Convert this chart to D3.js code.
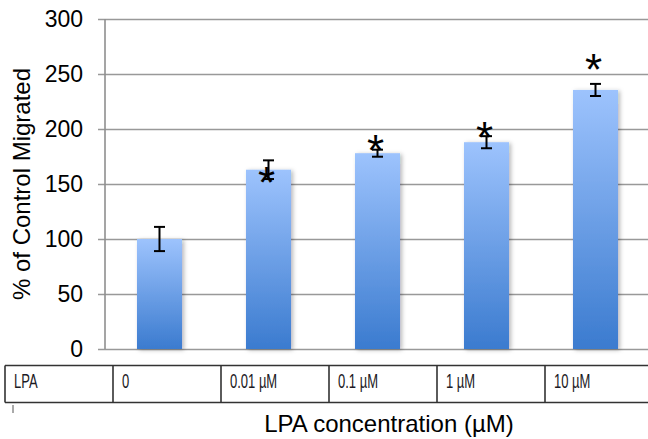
<!DOCTYPE html>
<html>
<head>
<meta charset="utf-8">
<script src="https://cdn.jsdelivr.net/npm/d3@7"></script>
<style>
  html, body { margin: 0; padding: 0; background: #fff; }
  svg { display: block; }
  text { font-family: Arial, "Liberation Sans", Helvetica, sans-serif; }
</style>
</head>
<body>
<div id="chart"></div>
<script>
// Cell migration in response to LPA (% of control), mean ± error
const categories = ["0", "0.01 µM", "0.1 µM", "1 µM", "10 µM"];
const migrated   = [100, 163, 178, 188, 235.5];
const errors     = [11, 8.5, 3.2, 5.5, 5.5];
// height (in % units) where each significance asterisk sits; null = not significant
const starLevels = [null, 160, 189, 201, 263];
const yTicks     = [0, 50, 100, 150, 200, 250, 300];
const rowHeader  = "LPA";
const yTitle     = "% of Control Migrated";
const xTitle     = "LPA concentration (µM)";

const W = 648, H = 439;
const svg = d3.select("#chart").append("svg")
  .attr("width", W).attr("height", H);

// gradient fill + soft shadow for the bars
const defs = svg.append("defs");
const grad = defs.append("linearGradient")
  .attr("id", "barFill").attr("x1", 0).attr("y1", 0).attr("x2", 0).attr("y2", 1);
grad.append("stop").attr("offset", "0%").attr("stop-color", "#9dc3fd");
grad.append("stop").attr("offset", "100%").attr("stop-color", "#3b7bcf");
const shadow = defs.append("filter").attr("id", "barShadow")
  .attr("x", "-20%").attr("y", "-10%").attr("width", "150%").attr("height", "130%");
shadow.append("feDropShadow")
  .attr("dx", 2).attr("dy", 1).attr("stdDeviation", 2)
  .attr("flood-color", "#000").attr("flood-opacity", 0.28);

const plotLeft = 105, plotRight = 650, plotTop = 19, plotBottom = 349;

const x = d3.scaleBand()
  .domain(categories)
  .range([plotLeft, plotRight])
  .paddingInner(0.587)
  .paddingOuter(0.2935);

const y = d3.scaleLinear().domain([0, 300]).range([plotBottom, plotTop]);

// y axis with full-width gridlines
const yAxis = svg.append("g")
  .attr("transform", `translate(${plotLeft},0)`)
  .call(d3.axisLeft(y).tickValues(yTicks).tickSizeInner(-(W - plotLeft)).tickSizeOuter(0).tickPadding(22));
yAxis.select(".domain").remove();
yAxis.selectAll(".tick line")
  .attr("x1", -7)
  .attr("stroke", "#999").attr("stroke-width", 1.4);
yAxis.selectAll(".tick text")
  .attr("fill", "#000")
  .style("font-size", "23px")
  .style("font-family", "Arial, 'Liberation Sans', sans-serif");

// vertical axis line
svg.append("line")
  .attr("x1", plotLeft).attr("x2", plotLeft)
  .attr("y1", y(300)).attr("y2", y(0))
  .attr("stroke", "#8f8f8f").attr("stroke-width", 1.6);

// bars
svg.append("g").selectAll("rect")
  .data(categories)
  .join("rect")
  .attr("x", d => x(d))
  .attr("y", (d, i) => y(migrated[i]))
  .attr("width", x.bandwidth())
  .attr("height", (d, i) => y(0) - y(migrated[i]))
  .attr("fill", "url(#barFill)")
  .attr("filter", "url(#barShadow)");

// error bars
const capHalf = 5.5;
const eg = svg.append("g").attr("stroke", "#000").attr("stroke-width", 2).attr("fill", "none");
categories.forEach((c, i) => {
  const cx = x(c) + x.bandwidth() / 2;
  const hi = y(migrated[i] + errors[i]);
  const lo = y(migrated[i] - errors[i]);
  eg.append("line").attr("x1", cx).attr("x2", cx).attr("y1", hi).attr("y2", lo);
  eg.append("line").attr("x1", cx - capHalf).attr("x2", cx + capHalf).attr("y1", hi).attr("y2", hi);
  eg.append("line").attr("x1", cx - capHalf).attr("x2", cx + capHalf).attr("y1", lo).attr("y2", lo);
});

// significance asterisks
svg.append("g").selectAll("text")
  .data(categories.map((c, i) => ({ c, v: starLevels[i] })).filter(d => d.v !== null))
  .join("text")
  .attr("x", d => x(d.c) + x.bandwidth() / 2 - 2)
  .attr("y", d => y(d.v) + 25)
  .attr("text-anchor", "middle")
  .attr("fill", "#000")
  .style("font-size", "44px")
  .text("*");

// data table under the chart
const tableTop = 365.5, tableBottom = 402.5, colStep = 108, tableLeft = 5;
const cells = [rowHeader].concat(categories);
const tg = svg.append("g");
tg.append("line")
  .attr("x1", tableLeft).attr("x2", W + 5).attr("y1", tableTop).attr("y2", tableTop)
  .attr("stroke", "#333").attr("stroke-width", 1.6);
tg.append("line")
  .attr("x1", tableLeft).attr("x2", W + 5).attr("y1", tableBottom).attr("y2", tableBottom)
  .attr("stroke", "#333").attr("stroke-width", 1.6);
cells.forEach((t, i) => {
  const cx = tableLeft + i * colStep;
  tg.append("line")
    .attr("x1", cx).attr("x2", cx).attr("y1", tableTop).attr("y2", tableBottom)
    .attr("stroke", "#333").attr("stroke-width", 1.6);
  tg.append("text")
    .attr("transform", `translate(${cx + 9},388) scale(1,1.6)`)
    .attr("fill", "#1c1a24")
    .style("font-size", "13px")
    .text(t);
});
// small marker under the table
tg.append("line")
  .attr("x1", 13).attr("x2", 13).attr("y1", 405).attr("y2", 413)
  .attr("stroke", "#555").attr("stroke-width", 1);

// axis titles
svg.append("text")
  .attr("x", 389).attr("y", 432)
  .attr("text-anchor", "middle")
  .attr("fill", "#000")
  .style("font-size", "24px")
  .text(xTitle);

svg.append("text")
  .attr("transform", "translate(30,184) rotate(-90)")
  .attr("text-anchor", "middle")
  .attr("fill", "#000")
  .style("font-size", "24px")
  .text(yTitle);
</script>
</body>
</html>
